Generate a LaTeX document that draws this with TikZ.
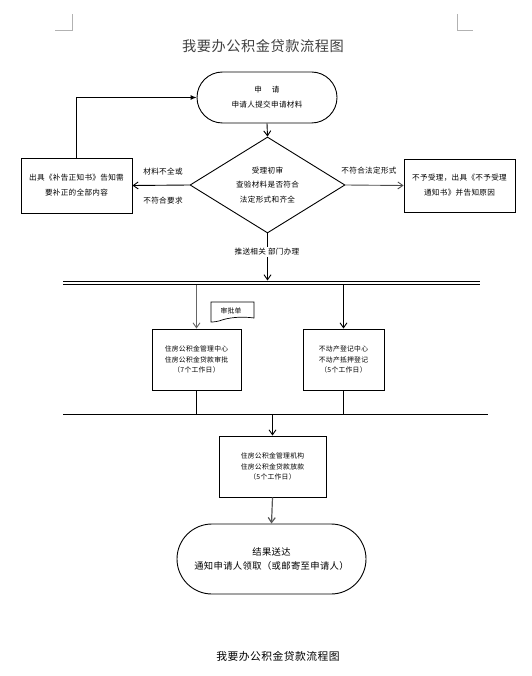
\documentclass[tikz,border=0pt]{standalone}
\usepackage{fontspec}
\setmainfont{Noto Sans CJK SC}[LetterSpace=4]
\usetikzlibrary{shapes.geometric,arrows.meta}
\tikzset{
  box/.style={draw, line width=0.9pt, inner sep=0pt, align=center, font=\fontsize{6.8}{10.5}\selectfont},
  bigbox/.style={draw, line width=0.9pt, inner sep=0pt, align=center, font=\fontsize{7.6}{15}\selectfont},
  flow/.style={line width=0.9pt, -{Straight Barb[length=5pt,width=7pt]}},
  lbl/.style={font=\fontsize{7.6}{10}\selectfont, inner sep=1pt},
  busline/.style={line width=0.9pt}
}
\begin{document}
\begin{tikzpicture}[x=1pt,y=-1pt]
\useasboundingbox (0,0) rectangle (531,676);
% corner marks
\draw[gray!60, line width=0.7pt] (55,30) -- (72,30) -- (72,14);
\draw[gray!60, line width=0.7pt] (457,14) -- (457,30) -- (473,30);
% title
\node[text=black!75, font=\fontsize{14.2}{16}\selectfont] (title) at (263,46) {我要办公积金贷款流程图};
% start
\node[bigbox, minimum width=140pt, minimum height=51pt, rounded corners=25.5pt] (start) at (267,97.5) {申\hspace{10pt}请\\申请人提交申请材料};
% diamond
\node[draw, line width=0.9pt, shape=diamond, aspect=1.615, minimum width=155pt, minimum height=96pt, inner sep=0pt, align=center, font=\fontsize{7.6}{14.5}\selectfont] (dia) at (267.5,185) {受理初审\\查验材料是否符合\\法定形式和齐全};
% left box
\node[bigbox, minimum width=111pt, minimum height=55pt] (left) at (76.5,185.5) {出具《补告正知书》告知需\\要补正的全部内容};
% right box
\node[bigbox, minimum width=111pt, minimum height=53pt] (right) at (459.5,185.5) {不予受理，出具《不予受理\\通知书》并告知原因};
% connectors around diamond
\draw[flow] (start.south) -- (dia.north);
\draw[flow] (dia.west) -- (left.east);
\draw[flow, draw=black!70] (dia.east) -- (right.west);
\draw[line width=0.9pt, -{Latex[length=6pt,width=5pt]}] (left.north) |- (start.west);
\node[lbl] (l1) at (163,172) {材料不全或};
\node[lbl] (l2) at (163,201) {不符合要求};
\node[lbl] (l3) at (369,171) {不符合法定形式};
% bus (double line)
\coordinate (busL1) at (63,281);
\coordinate (busR1) at (480,281);
\coordinate (busL2) at (63,284.5);
\coordinate (busR2) at (480,284.5);
\coordinate (busC) at (267.5,280.5);
\draw[busline] (busL1) -- (busR1);
\draw[busline] (busL2) -- (busR2);
\draw[flow] (dia.south) -- (busC);
\node[lbl, fill=white] (push) at (267,252) {推送相关 部门办理};
% middle boxes
\node[box, minimum width=89pt, minimum height=61pt] (mb1) at (196.5,359.5) {住房公积金管理中心\\住房公积金贷款审批\\（7个工作日）};
\node[box, minimum width=81pt, minimum height=61pt] (mb2) at (343.5,359.5) {不动产登记中心\\不动产抵押登记\\（5个工作日）};
\coordinate (b1) at (196.5,285);
\coordinate (b2) at (343.5,285);
\draw[flow, draw=black!60] (b1) -- (mb1.north);
\draw[flow] (b2) -- (mb2.north);
% document shape
\draw[line width=0.7pt, fill=white] (211,302) -- (254,302) -- (254,318) .. controls (240,316) and (228,318) .. (222,320) .. controls (218,321.5) and (214,322) .. (211,322) -- cycle;
\node[font=\fontsize{6.8}{8}\selectfont, inner sep=0pt] (doc) at (231,311) {审批单};
% lower bus
\coordinate (lbL) at (63,414);
\coordinate (lbR) at (488,414);
\draw[busline] (lbL) -- (lbR);
\draw[busline] (mb1.south) -- (196.5,414);
\draw[busline] (mb2.south) -- (343.5,414);
% bottom box
\node[box, minimum width=107pt, minimum height=61pt] (bb) at (272.5,466.5) {住房公积金管理机构\\住房公积金贷款放款\\（5个工作日）};
\coordinate (lbC) at (272.5,414);
\draw[flow] (lbC) -- (bb.north);
% end
\node[draw, line width=0.9pt, minimum width=189pt, minimum height=70pt, rounded corners=35pt, align=center, inner sep=0pt, font=\fontsize{9.3}{14}\selectfont] (end) at (271.5,559) {结果送达\\通知申请人领取（或邮寄至申请人）};
\draw[flow, draw=black!65, line width=1.2pt] (bb.south) -- (end.north);
% caption
\node[font=\fontsize{10.8}{12}\selectfont] (cap) at (278,656) {我要办公积金贷款流程图};
\end{tikzpicture}
\end{document}
